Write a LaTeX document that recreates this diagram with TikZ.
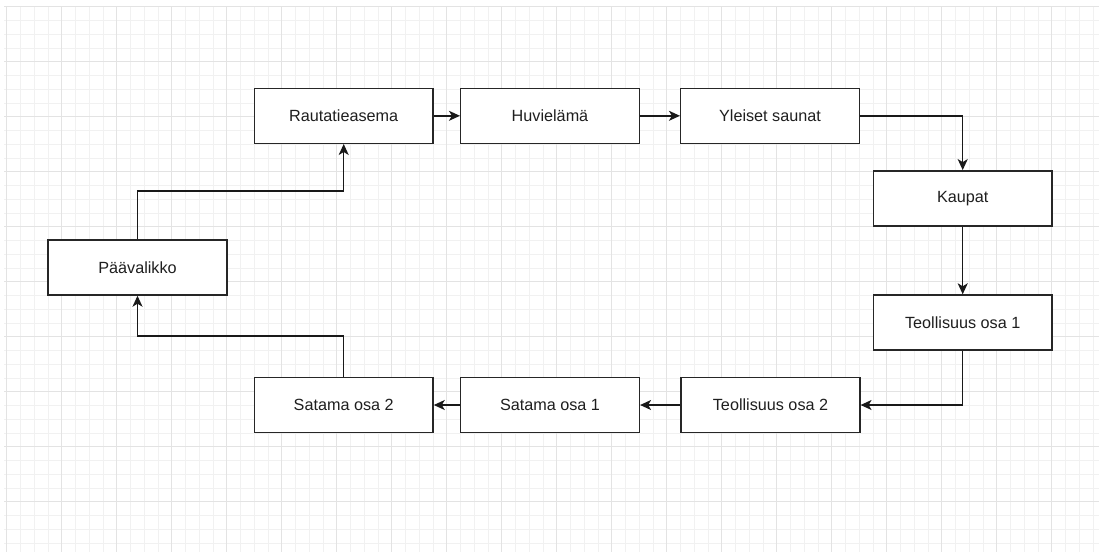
\documentclass[tikz,border=0pt]{standalone}
\usepackage{fontspec}
\setmainfont{Liberation Sans}
\usetikzlibrary{arrows.meta}
\definecolor{minorgrid}{HTML}{F1F1F1}
\definecolor{majorgrid}{HTML}{E3E3E3}
\definecolor{boxline}{HTML}{262626}
\tikzset{
  box/.style={draw=boxline, line width=1.4pt, fill=white, minimum width=178.75pt, minimum height=55pt, inner sep=0pt, font=\fontsize{16.2}{19}\selectfont, text=black!88},
  conn/.style={draw=black!90, line width=1.4pt, -{Stealth[length=11pt,width=10pt,inset=3pt]}},
  minorline/.style={draw=minorgrid, line width=0.9pt},
  majorline/.style={draw=majorgrid, line width=1pt}
}
\begin{document}
\begin{tikzpicture}[x=1pt,y=-1pt]
\useasboundingbox (0,0) rectangle (1099,552);
\fill[white] (0,0) rectangle (1099,552);
% grid
\foreach \k in {0,...,79} {
  \pgfmathsetmacro{\xx}{6.7+13.75*\k}
  \draw[minorline] (\xx,6.7) -- (\xx,552);
}
\foreach \k in {0,...,39} {
  \pgfmathsetmacro{\yy}{6.7+13.75*\k}
  \draw[minorline] (4,\yy) -- (1099,\yy);
}
\foreach \k in {0,...,19} {
  \pgfmathsetmacro{\xx}{6.7+55*\k}
  \draw[majorline] (\xx,6.7) -- (\xx,552);
}
\foreach \k in {0,...,9} {
  \pgfmathsetmacro{\yy}{6.7+55*\k}
  \draw[majorline] (4,\yy) -- (1099,\yy);
}
% nodes
\node[box] (R)  at (343.7,115.8) {Rautatieasema};
\node[box] (H)  at (550,115.8) {Huvielämä};
\node[box] (Y)  at (770,115.8) {Yleiset saunat};
\node[box] (K)  at (962.7,198.3) {Kaupat};
\node[box] (T1) at (962.7,322.5) {Teollisuus osa 1};
\node[box] (T2) at (770.5,405) {Teollisuus osa 2};
\node[box] (S1) at (550,405) {Satama osa 1};
\node[box] (S2) at (343.7,405) {Satama osa 2};
\node[box] (P)  at (137.5,267.5) {Päävalikko};
% connectors
\draw[conn] (R.east) -- (H.west);
\draw[conn] (H.east) -- (Y.west);
\draw[conn] (Y.east) -| (K.north);
\draw[conn] (K.south) -- (T1.north);
\draw[conn] (T1.south) |- (T2.east);
\draw[conn] (T2.west) -- (S1.east);
\draw[conn] (S1.west) -- (S2.east);
\draw[conn] (S2.north) -- ++(0,-41) -| (P.south);
\draw[conn] (P.north) -- ++(0,-48.3) -| (R.south);
\end{tikzpicture}
\end{document}
